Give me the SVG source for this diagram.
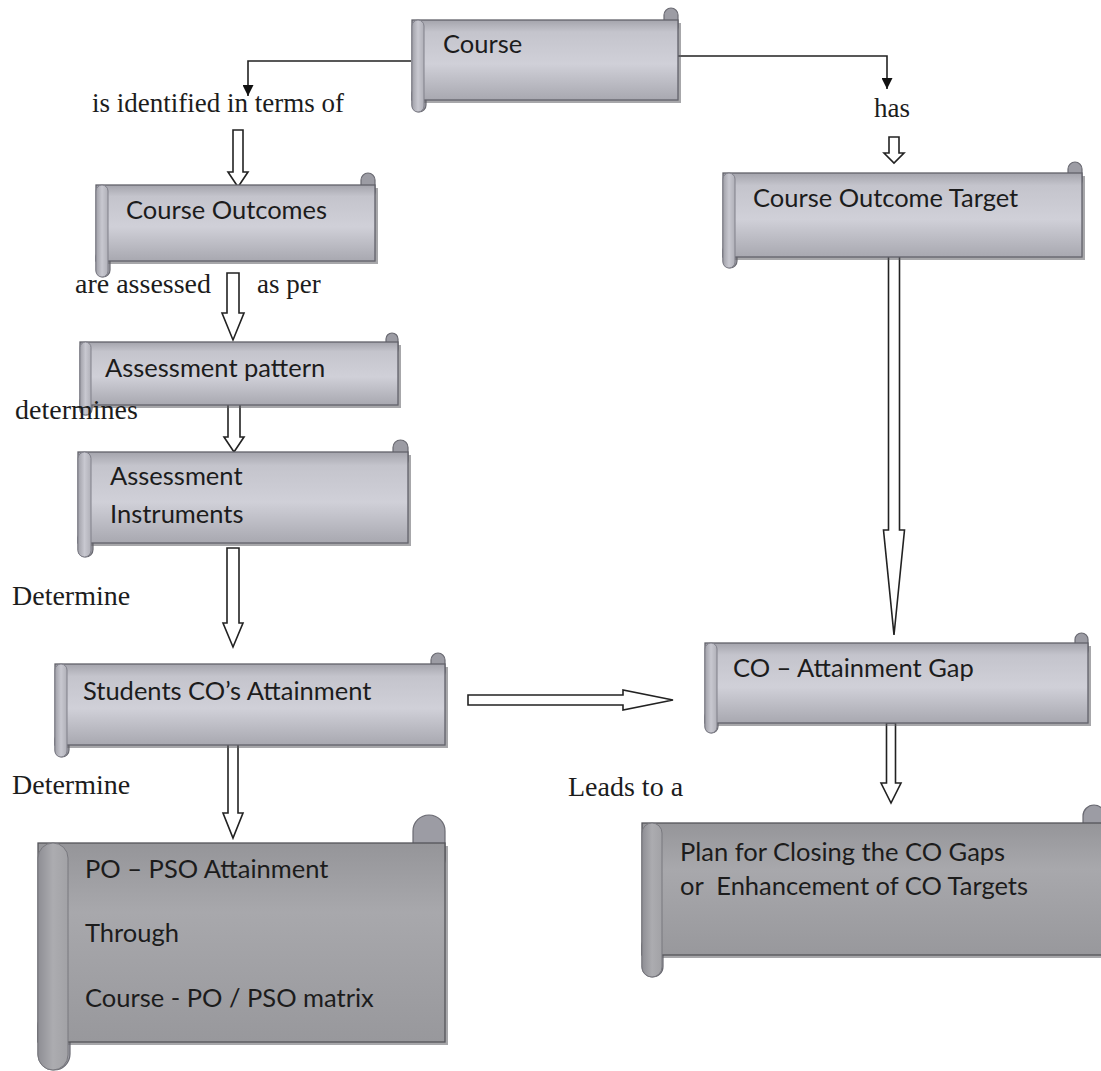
<svg xmlns="http://www.w3.org/2000/svg" width="1101" height="1071" viewBox="0 0 1101 1071">
<style>
.sans{font-family:Lato,"Liberation Sans",sans-serif;font-size:25.5px;fill:#1c1c1c;white-space:pre}
.serif{font-family:"Liberation Serif","Times New Roman",serif;font-size:28px;fill:#1c1c1c}
.body{fill:url(#g1);stroke:#62626a;stroke-width:1.3}
.body2{fill:url(#g2);stroke:#55555a;stroke-width:1.3}
.shadow{fill:#5e5e64;opacity:0.55}
.curl{fill:#9c9ca4;stroke:#6a6a72;stroke-width:1.2}
.strip{fill:url(#gs);stroke:#80808a;stroke-width:1}
.strip2{fill:url(#gs2);stroke:#78787e;stroke-width:1}
.blk{fill:#fff;stroke:#222;stroke-width:1.6;stroke-linejoin:miter}
.ln{fill:none;stroke:#222;stroke-width:1.6}
</style>
<defs>
<linearGradient id="g1" x1="0" y1="0" x2="0" y2="1">
<stop offset="0" stop-color="#a4a4ac"/>
<stop offset="0.15" stop-color="#c4c4cc"/>
<stop offset="0.55" stop-color="#d0d0d8"/>
<stop offset="1" stop-color="#a8a8b0"/>
</linearGradient>
<linearGradient id="g2" x1="0" y1="0" x2="0" y2="1">
<stop offset="0" stop-color="#959599"/>
<stop offset="0.35" stop-color="#a8a8ac"/>
<stop offset="1" stop-color="#98989c"/>
</linearGradient>
<linearGradient id="gs" x1="0" y1="0" x2="1" y2="0">
<stop offset="0" stop-color="#a0a0a8"/>
<stop offset="0.5" stop-color="#c8c8d0"/>
<stop offset="1" stop-color="#b0b0b8"/>
</linearGradient>
<linearGradient id="gs2" x1="0" y1="0" x2="1" y2="0">
<stop offset="0" stop-color="#8e8e94"/>
<stop offset="0.5" stop-color="#acacb0"/>
<stop offset="1" stop-color="#a2a2a6"/>
</linearGradient>
<marker id="tri" viewBox="0 0 10 10" refX="10" refY="5" markerWidth="11" markerHeight="11" markerUnits="userSpaceOnUse" orient="auto">
<path d="M0,0 L10,5 L0,10 Z" fill="#111"/>
</marker>
</defs>

<g id="connectors">
<path class="ln" d="M411,61 H248 V96" marker-end="url(#tri)"/>
<path class="ln" d="M678,56 H887 V89" marker-end="url(#tri)"/>
<path class="blk" d="M233,130 H243 V172 H248 L238,187 L228,172 H233 Z"/>
<path class="blk" d="M227,273 H239 V313 H244 L233,340 L222,313 H227 Z"/>
<path class="blk" d="M228,396 H240 V437 H244 L234,452 L224,437 H228 Z"/>
<path class="blk" d="M227,548 H239 V623 H243 L233,647 L223,623 H227 Z"/>
<path class="blk" d="M228,737 H238 V813 H243 L233,838 L223,813 H228 Z"/>
<path class="blk" d="M889,137 H899 V153 H904 L894,163 L884,153 H889 Z"/>
<path class="blk" d="M888.5,233 H899.5 V530 H904.5 L894,635 L883.5,530 H888.5 Z"/>
<path class="blk" d="M886.5,723 H895.5 V783 H901 L891,803 L881,783 H886.5 Z"/>
<path class="blk" d="M468,695 H623 V690 L673,700 L623,710 V705 H468 Z"/>
</g>

<g id="n-course">
<rect class="curl" x="664" y="8" width="14" height="26" rx="7"/>
<rect class="curl" x="412" y="86" width="14" height="26" rx="7"/>
<rect class="shadow" x="415" y="23" width="266" height="80"/>
<rect class="body" x="412" y="20" width="266" height="80"/>
<rect class="strip" x="412" y="20" width="12" height="92" rx="6"/>
<text class="sans" x="443" y="53">Course</text>
</g>

<g id="n-cot">
<rect class="curl" x="1068" y="162" width="14" height="26" rx="7"/>
<rect class="curl" x="723" y="243" width="14" height="25" rx="7"/>
<rect class="shadow" x="726" y="176" width="359" height="84"/>
<rect class="body" x="723" y="173" width="359" height="84"/>
<rect class="strip" x="723" y="173" width="12" height="95" rx="6"/>
<text class="sans" x="753" y="207">Course Outcome Target</text>
</g>

<g id="n-co">
<rect class="curl" x="361" y="173" width="14" height="26" rx="7"/>
<rect class="curl" x="96" y="250" width="14" height="27" rx="7"/>
<rect class="shadow" x="99" y="188" width="279" height="76"/>
<rect class="body" x="96" y="185" width="279" height="76"/>
<rect class="strip" x="96" y="185" width="12" height="92" rx="6"/>
<text class="sans" x="126" y="219">Course Outcomes</text>
</g>

<g id="n-ap">
<rect class="curl" x="386" y="333" width="12" height="22" rx="6"/>
<rect class="curl" x="80" y="395" width="12" height="20" rx="6"/>
<rect class="shadow" x="83" y="345" width="318" height="63"/>
<rect class="body" x="80" y="342" width="318" height="63"/>
<rect class="strip" x="80" y="342" width="11" height="73" rx="5.5"/>
<text class="sans" x="105" y="377">Assessment pattern</text>
</g>

<g id="n-ai">
<rect class="curl" x="393" y="440" width="15" height="28" rx="7.5"/>
<rect class="curl" x="78" y="530" width="15" height="27" rx="7.5"/>
<rect class="shadow" x="81" y="455" width="330" height="91"/>
<rect class="body" x="78" y="452" width="330" height="91"/>
<rect class="strip" x="78" y="452" width="13" height="105" rx="6.5"/>
<text class="sans" x="110" y="485">Assessment</text>
<text class="sans" x="110" y="523">Instruments</text>
</g>

<g id="n-sca">
<rect class="curl" x="431" y="653" width="14" height="26" rx="7"/>
<rect class="curl" x="55" y="732" width="14" height="25" rx="7"/>
<rect class="shadow" x="58" y="667" width="390" height="81"/>
<rect class="body" x="55" y="664" width="390" height="81"/>
<rect class="strip" x="55" y="664" width="12" height="93" rx="6"/>
<text class="sans" x="83" y="700">Students CO’s Attainment</text>
</g>

<g id="n-gap">
<rect class="curl" x="1075" y="633" width="13" height="24" rx="6.5"/>
<rect class="curl" x="705" y="710" width="13" height="23" rx="6.5"/>
<rect class="shadow" x="708" y="646" width="383" height="80"/>
<rect class="body" x="705" y="643" width="383" height="80"/>
<rect class="strip" x="705" y="643" width="12" height="90" rx="6"/>
<text class="sans" x="733" y="677">CO – Attainment Gap</text>
</g>

<g id="n-plan">
<rect class="curl" x="1083" y="805" width="22" height="40" rx="11"/>
<rect class="curl" x="642" y="935" width="21" height="42" rx="10.5"/>
<rect class="shadow" x="645" y="826" width="470" height="132"/>
<rect class="body2" x="642" y="823" width="470" height="132"/>
<rect class="strip2" x="642" y="823" width="20" height="154" rx="10"/>
<text class="sans" x="680" y="861">Plan for Closing the CO Gaps</text>
<text class="sans" x="680" y="895">or  Enhancement of CO Targets</text>
</g>

<g id="n-po">
<rect class="curl" x="413" y="815" width="32" height="60" rx="16"/>
<rect class="curl" x="38" y="1010" width="32" height="60" rx="16"/>
<rect class="shadow" x="41" y="846" width="407" height="199"/>
<rect class="body2" x="38" y="843" width="407" height="199"/>
<rect class="strip2" x="38" y="843" width="30" height="227" rx="15"/>
<text class="sans" x="85" y="878">PO – PSO Attainment</text>
<text class="sans" x="85" y="942">Through</text>
<text class="sans" x="85" y="1007">Course - PO / PSO matrix</text>
</g>

<g id="labels">
<text class="serif" x="92" y="112" style="font-size:27px">is identified in terms of</text>
<text class="serif" x="892" y="117" text-anchor="middle" style="font-size:27px">has</text>
<text class="serif" x="75" y="293">are assessed</text>
<text class="serif" x="257" y="293" style="font-size:27px">as per</text>
<text class="serif" x="15" y="419">determines</text>
<text class="serif" x="12" y="605">Determine</text>
<text class="serif" x="12" y="794">Determine</text>
<text class="serif" x="568" y="796">Leads to a</text>
</g>
</svg>
